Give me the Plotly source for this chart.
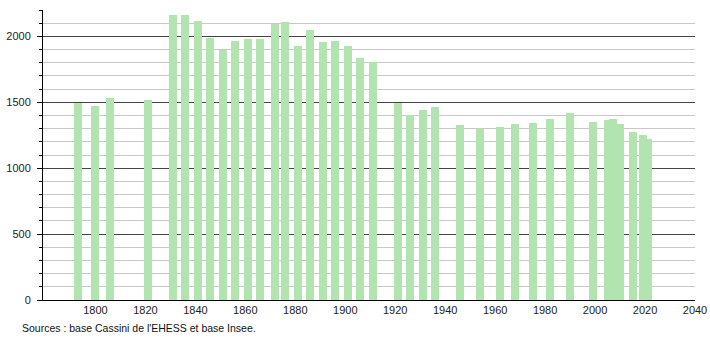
import plotly.graph_objects as go

years = [1793, 1800, 1806, 1821, 1831, 1836, 1841, 1846, 1851, 1856, 1861, 1866,
         1872, 1876, 1881, 1886, 1891, 1896, 1901, 1906, 1911, 1921, 1926, 1931,
         1936, 1946, 1954, 1962, 1968, 1975, 1982, 1990, 1999, 2005, 2007, 2010,
         2015, 2019, 2021]
population = [1495, 1473, 1532, 1519, 2164, 2160, 2114, 1987, 1899, 1967, 1980, 1980,
              2096, 2109, 1929, 2051, 1957, 1967, 1924, 1835, 1805, 1494, 1405, 1443,
              1461, 1329, 1296, 1314, 1334, 1342, 1375, 1418, 1347, 1362, 1375, 1337,
              1278, 1248, 1220]
x_ticks = [1800, 1820, 1840, 1860, 1880, 1900, 1920, 1940, 1960, 1980, 2000, 2020, 2040]
source_text = "Sources : base Cassini de l'EHESS et base Insee."

L, R, T, B = 43, 15, 10, 40
W, H = 710, 340

fig = go.Figure()
fig.add_trace(go.Bar(
    x=years, y=population, width=3.2,
    marker=dict(color="rgb(178,228,176)", line=dict(width=0)),
    hoverinfo="x+y",
))

plot_w = W - L - R
plot_h = H - T - B

fig.update_layout(
    width=W, height=H,
    margin=dict(l=L, r=R, t=T, b=B, autoexpand=False),
    paper_bgcolor="white", plot_bgcolor="white",
    font=dict(family="Liberation Sans, Arial, sans-serif", size=11, color="#222"),
    showlegend=False,
    bargap=0,
    xaxis=dict(
        range=[1779, 2040], tickmode="array", tickvals=x_ticks,
        showgrid=False, zeroline=False, automargin=False,
        showline=True, linecolor="#000", linewidth=1,
        ticks="", tickfont=dict(size=11),
    ),
    yaxis=dict(
        range=[0, 2200], dtick=500, tick0=0, automargin=False,
        showgrid=True, gridcolor="#444", gridwidth=1,
        zeroline=False, showline=True, linecolor="#000", linewidth=1,
        ticks="outside", ticklen=5, tickcolor="#000",
        ticklabelstandoff=4,
        minor=dict(dtick=100, showgrid=True, gridcolor="#c8c8c8", gridwidth=1,
                   ticks="outside", ticklen=3, tickcolor="#000"),
        tickfont=dict(size=11),
    ),
    annotations=[dict(
        text=source_text,
        x=(20 - L) / plot_w, y=(H - B - 328) / plot_h,
        xref="paper", yref="paper",
        showarrow=False, xanchor="left", yanchor="middle",
        font=dict(size=10.5, color="#111"),
    )],
)

fig.write_html("out.html")
